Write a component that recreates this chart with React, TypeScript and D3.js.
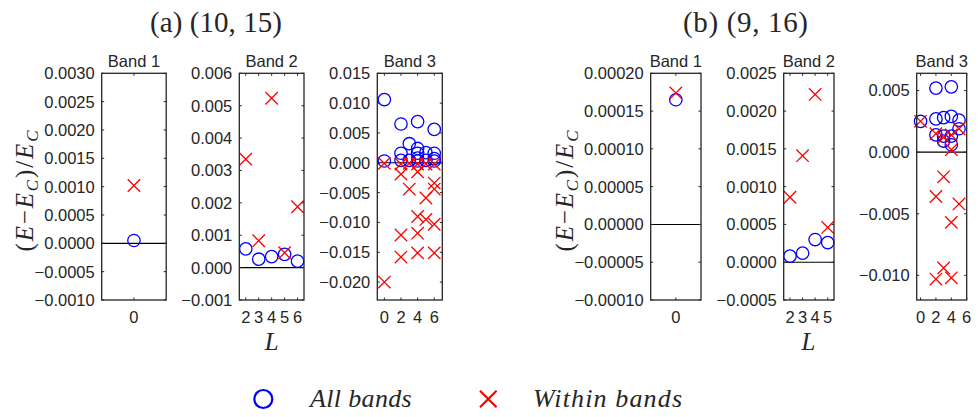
import React from "react";
import * as d3 from "d3";

// ---------- DATA ----------
// Panel (a) (10,15)
const aBand1L = [0];
const aBand1All = [0.00005];
const aBand1Within = [0.00102];

const aBand2L = [2, 3, 4, 5, 6];
const aBand2All = [0.00058, 0.00026, 0.00034, 0.00041, 0.0002];
const aBand2Within = [0.00335, 0.00083, 0.00523, 0.00046, 0.00188];

const aBand3AllL = [0, 0, 2, 2, 2, 3, 3, 4, 4, 4, 4, 4, 5, 5, 6, 6, 6, 6];
const aBand3All = [0.0106, 0.0003, 0.0065, 0.0016, 0.0004, 0.0032, 0.0004, 0.0069, 0.0024, 0.0016, 0.0008, 0.0003, 0.0017, 0.0004, 0.0056, 0.0016, 0.0007, 0.0003];
const aBand3WithinL = [0, 0, 2, 2, 2, 2, 3, 3, 4, 4, 4, 4, 4, 5, 5, 5, 6, 6, 6, 6, 6];
const aBand3Within = [-0.0001, -0.02, -0.0002, -0.0019, -0.0121, -0.0158, -0.0001, -0.0044, -0.0002, -0.0015, -0.009, -0.0118, -0.0151, -0.0002, -0.0059, -0.0095, -0.0002, -0.0034, -0.0044, -0.0103, -0.0151];

// Panel (b) (9,16)
const bBand1L = [0];
const bBand1All = [0.000165];
const bBand1Within = [0.000174];

const bBand2L = [2, 3, 4, 5];
const bBand2All = [0.00008, 0.00012, 0.0003, 0.00026];
const bBand2Within = [0.00086, 0.00141, 0.00222, 0.00046];

const bBand3AllL = [0, 2, 2, 2, 3, 3, 3, 4, 4, 4, 4, 5, 5];
const bBand3All = [0.0025, 0.0052, 0.0027, 0.0014, 0.0028, 0.0013, 0.0009, 0.0053, 0.0029, 0.0013, 0.0006, 0.0026, 0.0019];
const bBand3WithinL = [0, 2, 2, 2, 3, 3, 3, 4, 4, 4, 4, 5, 5];
const bBand3Within = [0.0025, 0.0015, -0.0036, -0.0103, 0.0012, -0.002, -0.0094, 0.0014, 0.0002, -0.0057, -0.0102, 0.0019, -0.0042];

// Tick values
const aBand1YTicks = [-0.001, -0.0005, 0, 0.0005, 0.001, 0.0015, 0.002, 0.0025, 0.003];
const aBand2YTicks = [-0.001, 0, 0.001, 0.002, 0.003, 0.004, 0.005, 0.006];
const aBand3YTicks = [-0.02, -0.015, -0.01, -0.005, 0, 0.005, 0.01, 0.015];
const bBand1YTicks = [-0.0001, -0.00005, 0, 0.00005, 0.0001, 0.00015, 0.0002];
const bBand2YTicks = [-0.0005, 0, 0.0005, 0.001, 0.0015, 0.002, 0.0025];
const bBand3YTicks = [-0.01, -0.005, 0, 0.005];

const band1XTicks = [0];
const aBand2XTicks = [2, 3, 4, 5, 6];
const bBand2XTicks = [2, 3, 4, 5];
const band3XTicks = [0, 2, 4, 6];

const bandTitles = ["Band 1", "Band 2", "Band 3"];
const panelTitles = ["(a)  (10, 15)", "(b)  (9, 16)"];
const legendLabels = ["All bands", "Within bands"];

// ---------- LAYOUT ----------
const TOP = 73.3;
const BOTTOM = 300;
const SANS = "Liberation Sans";
const SERIF = "Liberation Serif";
const AX = "#262626";
const BLUE = "#0000ff";
const RED = "#ff0000";

type Sub = {
  x0: number;
  w: number;
  xDomain: [number, number];
  yDomain: [number, number];
  xTicks: number[];
  yTicks: number[];
  decimals: number;
  title: string;
  allL: number[];
  all: number[];
  withinL: number[];
  within: number[];
};

const subs: Sub[] = [
  { x0: 101.7, w: 64.5, xDomain: [-1, 1], yDomain: [-0.001, 0.003], xTicks: band1XTicks, yTicks: aBand1YTicks, decimals: 4, title: bandTitles[0], allL: aBand1L, all: aBand1All, withinL: aBand1L, within: aBand1Within },
  { x0: 239.3, w: 64.7, xDomain: [1.5, 6.5], yDomain: [-0.001, 0.006], xTicks: aBand2XTicks, yTicks: aBand2YTicks, decimals: 3, title: bandTitles[1], allL: aBand2L, all: aBand2All, withinL: aBand2L, within: aBand2Within },
  { x0: 377.3, w: 65, xDomain: [-0.85, 6.97], yDomain: [-0.023, 0.015], xTicks: band3XTicks, yTicks: aBand3YTicks, decimals: 3, title: bandTitles[2], allL: aBand3AllL, all: aBand3All, withinL: aBand3WithinL, within: aBand3Within },
  { x0: 650.7, w: 50.3, xDomain: [-1, 1], yDomain: [-0.0001, 0.0002], xTicks: band1XTicks, yTicks: bBand1YTicks, decimals: 5, title: bandTitles[0], allL: bBand1L, all: bBand1All, withinL: bBand1L, within: bBand1Within },
  { x0: 783.7, w: 50.3, xDomain: [1.5, 5.5], yDomain: [-0.0005, 0.0025], xTicks: bBand2XTicks, yTicks: bBand2YTicks, decimals: 4, title: bandTitles[1], allL: bBand2L, all: bBand2All, withinL: bBand2L, within: bBand2Within },
  { x0: 916.7, w: 50, xDomain: [-0.5, 6], yDomain: [-0.012, 0.0064], xTicks: band3XTicks, yTicks: bBand3YTicks, decimals: 3, title: bandTitles[2], allL: bBand3AllL, all: bBand3All, withinL: bBand3WithinL, within: bBand3Within },
];

const fmt = (v: number, dec: number) => {
  const s = Math.abs(v).toFixed(dec);
  return v < -1e-12 ? "\u2212" + s : s;
};

const Cross = ({ x, y, s, sw }: { x: number; y: number; s: number; sw: number }) => (
  <path d={`M${x - s},${y - s}L${x + s},${y + s}M${x - s},${y + s}L${x + s},${y - s}`} stroke={RED} strokeWidth={sw} fill="none" />
);

const SubPlot = ({ sp }: { sp: Sub }) => {
  const x = d3.scaleLinear().domain(sp.xDomain).range([sp.x0, sp.x0 + sp.w]);
  const y = d3.scaleLinear().domain(sp.yDomain).range([BOTTOM, TOP]);
  const h = BOTTOM - TOP;
  return (
    <g>
      <text x={sp.x0 + sp.w / 2} y={TOP - 6.3} textAnchor="middle" style={{ fontFamily: SANS, fontSize: "16.5px" }} fill={AX}>
        {sp.title}
      </text>
      <line x1={sp.x0} x2={sp.x0 + sp.w} y1={y(0)} y2={y(0)} stroke="#000" strokeWidth={1.1} />
      {sp.yTicks.map((t, i) => (
        <g key={"y" + i}>
          <line x1={sp.x0} x2={sp.x0 + 2.5} y1={y(t)} y2={y(t)} stroke={AX} strokeWidth={1} />
          <line x1={sp.x0 + sp.w - 2.5} x2={sp.x0 + sp.w} y1={y(t)} y2={y(t)} stroke={AX} strokeWidth={1} />
          <text x={sp.x0 - 7} y={y(t)} dy="0.36em" textAnchor="end" style={{ fontFamily: SANS, fontSize: "16.5px" }} fill={AX}>
            {fmt(t, sp.decimals)}
          </text>
        </g>
      ))}
      {sp.xTicks.map((t, i) => (
        <g key={"x" + i}>
          <line x1={x(t)} x2={x(t)} y1={BOTTOM} y2={BOTTOM - 2.5} stroke={AX} strokeWidth={1} />
          <line x1={x(t)} x2={x(t)} y1={TOP} y2={TOP + 2.5} stroke={AX} strokeWidth={1} />
          <text x={x(t)} y={BOTTOM + 22.5} textAnchor="middle" style={{ fontFamily: SANS, fontSize: "16.5px" }} fill={AX}>
            {String(t)}
          </text>
        </g>
      ))}
      {sp.all.map((v, i) => (
        <circle key={"c" + i} cx={x(sp.allL[i])} cy={y(v)} r={6.2} fill="none" stroke={BLUE} strokeWidth={1.3} />
      ))}
      {sp.within.map((v, i) => (
        <Cross key={"w" + i} x={x(sp.withinL[i])} y={y(v)} s={6.2} sw={1.3} />
      ))}
      <rect x={sp.x0} y={TOP} width={sp.w} height={h} fill="none" stroke={AX} strokeWidth={1.3} />
    </g>
  );
};

const YLabel = ({ cx, cy }: { cx: number; cy: number }) => (
  <text
    transform={`translate(${cx},${cy}) rotate(-90)`}
    textAnchor="middle"
    style={{ fontFamily: SERIF, fontSize: "25px" }}
    fill={AX}
    dy="0.3em"
    textLength={121}
    lengthAdjust="spacing"
  >
    <tspan>(</tspan>
    <tspan fontStyle="italic">E</tspan>
    <tspan>{"\u2212"}</tspan>
    <tspan fontStyle="italic">E</tspan>
    <tspan fontStyle="italic" style={{ fontSize: "17px" }} dy="5">C</tspan>
    <tspan dy="-5">)</tspan>
    <tspan>/</tspan>
    <tspan fontStyle="italic">E</tspan>
    <tspan fontStyle="italic" style={{ fontSize: "17px" }} dy="5">C</tspan>
  </text>
);

export default function App() {
  return (
    <svg width={978} height={417} style={{ position: "absolute", left: 0, top: 0, background: "#fff" }}>
      <rect width={978} height={417} fill="#fff" />
      <text x={216} y={31.7} textAnchor="middle" style={{ fontFamily: SERIF, fontSize: "29px" }} fill={AX} textLength={132} lengthAdjust="spacing">
        {panelTitles[0]}
      </text>
      <text x={745.5} y={31.7} textAnchor="middle" style={{ fontFamily: SERIF, fontSize: "29px" }} fill={AX} textLength={125} lengthAdjust="spacing">
        {panelTitles[1]}
      </text>
      {subs.map((sp, i) => (
        <SubPlot key={i} sp={sp} />
      ))}
      <YLabel cx={25} cy={191} />
      <YLabel cx={565} cy={191} />
      <text x={271.7} y={350} textAnchor="middle" style={{ fontFamily: SERIF, fontSize: "25px", fontStyle: "italic" }} fill={AX}>L</text>
      <text x={808.5} y={350} textAnchor="middle" style={{ fontFamily: SERIF, fontSize: "25px", fontStyle: "italic" }} fill={AX}>L</text>
      <circle cx={263.3} cy={399} r={9} fill="none" stroke={BLUE} strokeWidth={2.2} />
      <text x={310} y={407} style={{ fontFamily: SERIF, fontSize: "26px", fontStyle: "italic" }} fill={AX} textLength={101.7} lengthAdjust="spacing">
        {legendLabels[0]}
      </text>
      <Cross x={488.3} y={399} s={8.3} sw={2.2} />
      <text x={533} y={407} style={{ fontFamily: SERIF, fontSize: "26px", fontStyle: "italic" }} fill={AX} textLength={149} lengthAdjust="spacing">
        {legendLabels[1]}
      </text>
    </svg>
  );
}
